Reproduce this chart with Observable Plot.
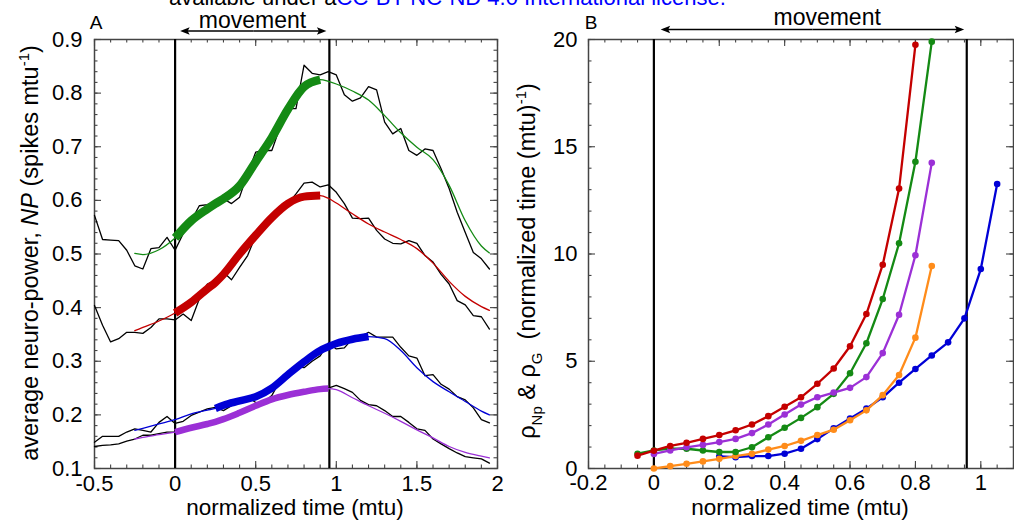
<!DOCTYPE html>
<html>
<head>
<meta charset="utf-8">
<script src="https://cdn.jsdelivr.net/npm/d3@7"></script>
<script src="https://cdn.jsdelivr.net/npm/@observablehq/plot@0.6"></script>
<style>
  html, body { margin: 0; padding: 0; background: #fff; }
  #wrap { position: relative; width: 1014px; height: 530px; overflow: hidden; background: #fff; }
  #hdr { position: absolute; left: 0; top: 0; }
  #pa { position: absolute; left: 0; top: 0; }
  #pb { position: absolute; left: 507px; top: 0; }
</style>
</head>
<body>
<div id="wrap">
  <div id="pa"></div>
  <div id="pb"></div>
  <svg id="hdr" width="1014" height="12"></svg>
</div>
<script>
// ---------------- Panel A data ----------------
const tRaw = [-0.5,-0.45,-0.4,-0.35,-0.3,-0.25,-0.2,-0.15,-0.1,-0.05,
  0,0.05,0.1,0.15,0.2,0.25,0.3,0.35,0.4,0.45,
  0.5,0.55,0.6,0.65,0.7,0.75,0.8,0.85,0.9,0.95,
  1,1.05,1.1,1.15,1.2,1.25,1.3,1.35,1.4,1.45,
  1.5,1.55,1.6,1.65,1.7,1.75,1.8,1.85,1.9,1.95];
const greenRaw = [0.572,0.527,0.526,0.525,0.507,0.478,0.472,0.51,0.512,0.531,
  0.507,0.538,0.562,0.59,0.592,0.597,0.603,0.594,0.606,0.65,
  0.69,0.693,0.693,0.736,0.771,0.771,0.852,0.837,0.834,0.84,
  0.834,0.797,0.785,0.791,0.812,0.806,0.746,0.724,0.734,0.693,
  0.684,0.696,0.693,0.659,0.622,0.578,0.54,0.503,0.491,0.472];
const redRaw = [0.404,0.367,0.336,0.342,0.354,0.354,0.352,0.363,0.379,0.379,
  0.377,0.388,0.376,0.416,0.444,0.451,0.466,0.452,0.475,0.497,
  0.534,0.546,0.563,0.58,0.594,0.612,0.632,0.634,0.625,0.629,
  0.615,0.594,0.567,0.566,0.567,0.544,0.528,0.52,0.519,0.525,
  0.52,0.497,0.485,0.462,0.444,0.413,0.405,0.385,0.383,0.36];
const blueRaw = [0.149,0.16,0.16,0.16,0.168,0.174,0.171,0.168,0.186,0.197,
  0.184,0.188,0.199,0.205,0.211,0.214,0.208,0.217,0.225,0.234,
  0.223,0.223,0.236,0.264,0.28,0.29,0.288,0.3,0.31,0.334,
  0.323,0.325,0.342,0.346,0.354,0.345,0.345,0.345,0.326,0.31,
  0.306,0.273,0.275,0.257,0.248,0.234,0.228,0.213,0.191,0.185];
const purpleRaw = [0.141,0.143,0.144,0.146,0.151,0.155,0.162,0.162,0.165,0.168,
  0.168,0.172,0.176,0.18,0.183,0.187,0.192,0.198,0.204,0.21,
  0.217,0.223,0.229,0.233,0.237,0.24,0.243,0.246,0.248,0.25,
  0.255,0.249,0.242,0.227,0.219,0.217,0.208,0.197,0.197,0.186,
  0.174,0.171,0.155,0.146,0.137,0.129,0.122,0.12,0.118,0.11];

const tFit = [-0.25,-0.2,-0.1,0,0.1,0.2,0.25,0.3,0.4,0.5,0.6,0.7,0.8,0.9,0.95,
  1,1.1,1.2,1.3,1.4,1.5,1.6,1.7,1.8,1.9,1.95];
const greenFit = [0.501,0.499,0.508,0.53,0.562,0.584,0.594,0.603,0.627,0.672,0.717,0.77,0.812,0.825,0.822,
  0.817,0.804,0.787,0.758,0.726,0.699,0.676,0.628,0.562,0.515,0.502];
const redFit = [0.357,0.363,0.375,0.39,0.41,0.435,0.447,0.462,0.5,0.535,0.568,0.594,0.607,0.609,0.604,
  0.595,0.575,0.556,0.541,0.527,0.51,0.483,0.449,0.421,0.402,0.395];
const blueFit = [0.171,0.175,0.183,0.191,0.202,0.209,0.212,0.218,0.226,0.234,0.25,0.275,0.299,0.32,0.327,
  0.333,0.341,0.346,0.342,0.32,0.288,0.262,0.243,0.225,0.207,0.2];
const purpleFit = [0.155,0.158,0.163,0.168,0.176,0.183,0.187,0.192,0.204,0.217,0.229,0.237,0.243,0.248,0.249,
  0.247,0.232,0.217,0.203,0.188,0.172,0.157,0.141,0.13,0.123,0.12];

// ranges drawn thick (fitted interval)
const greenThick = [0, 0.9];
const redThick = [0, 0.9];
const blueThick = [0.25, 1.2];
const purpleThick = [0, 0.95];

const xTicksA = [-0.5, 0, 0.5, 1, 1.5, 2];
const yTicksA = [0.1, 0.2, 0.3, 0.4, 0.5, 0.6, 0.7, 0.8, 0.9];
const xDomA = [-0.5, 2];
const yDomA = [0.1, 0.9];

// movement window and annotation
const movementBounds = [0, 0.957];
const arrowA = [0.05, 0.92];
const labelXA = 0.48;

// ---------------- Panel B data ----------------
const tB = [-0.05,0,0.05,0.1,0.15,0.2,0.25,0.3,0.35,0.4,0.45,0.5,0.55,0.6,0.65,0.7,0.75,0.8,0.85,0.9,0.95,1,1.05];
const rhoRed = [0.6,0.83,1.05,1.2,1.38,1.56,1.78,2.05,2.44,2.88,3.32,3.95,4.66,5.7,7.2,9.5,13.05,19.75];
const rhoGreen = [0.69,0.84,0.93,0.92,0.84,0.77,0.77,0.99,1.46,1.9,2.36,2.86,3.48,4.44,5.84,7.9,10.5,14.3,19.9];
const rhoPurple = [0.68,0.84,0.99,1.1,1.23,1.38,1.65,2.05,2.52,2.98,3.32,3.54,3.76,4.26,5.38,7.17,9.94,14.25];
const rhoOrange = [0,0.11,0.22,0.33,0.45,0.58,0.69,0.88,1.05,1.29,1.56,1.81,2.25,2.71,3.42,4.36,6.1,9.44];
const rhoBlue = [0.56,0.53,0.58,0.58,0.69,0.92,1.37,1.87,2.33,2.79,3.32,4.0,4.64,5.27,5.88,7.0,9.3,13.26];
// first time sample of each series (index into tB)
const startRed = -0.05, startGreen = -0.05, startPurple = 0, startOrange = 0, startBlue = 0.2;

const xTicksB = [-0.2, 0, 0.2, 0.4, 0.6, 0.8, 1];
const yTicksB = [0, 5, 10, 15, 20];
const xDomB = [-0.2, 1.1];
const yDomB = [0, 20];
const arrowB = [0.03, 0.94];
const labelXB = 0.53;

// ---------------- styles ----------------
const C = {green: "#148a14", red: "#c40000", blue: "#0000d6", purple: "#9b30d6", orange: "#ff8c1a"};
const FONT = "'Liberation Sans', Arial, Helvetica, sans-serif";
const FRAME = "#444";

function frameTicks(xMaj, xMin, yMaj, yMin, W, H) {
  const s = {stroke: FRAME, strokeWidth: 1.1};
  const mi = 3.5, ma = 7;
  return [
    Plot.tickX(xMin, {x: d => d, insetTop: H - mi, ...s}),
    Plot.tickX(xMin, {x: d => d, insetBottom: H - mi, ...s}),
    Plot.tickX(xMaj, {x: d => d, insetTop: H - ma, ...s}),
    Plot.tickX(xMaj, {x: d => d, insetBottom: H - ma, ...s}),
    Plot.tickY(yMin, {y: d => d, insetRight: W - mi, ...s}),
    Plot.tickY(yMin, {y: d => d, insetLeft: W - mi, ...s}),
    Plot.tickY(yMaj, {y: d => d, insetRight: W - ma, ...s}),
    Plot.tickY(yMaj, {y: d => d, insetLeft: W - ma, ...s})
  ];
}

function rows(ts, vs) { return vs.map((v, i) => ({t: ts[i], v})); }
function within(data, r) { return data.filter(d => d.t >= r[0] - 1e-9 && d.t <= r[1] + 1e-9); }

function styleMarkers(svg) {
  svg.querySelectorAll("marker").forEach(m => {
    m.setAttribute("overflow", "visible");
    m.querySelectorAll("path").forEach(p => {
      p.setAttribute("d", "M-6.5,-3.8L3,0L-6.5,3.8L-4.5,0Z");
      p.setAttribute("fill", "black");
      p.setAttribute("stroke", "none");
    });
  });
}

// ---------------- Panel A ----------------
const WA = 507, HA = 530, mlA = 94, mrA = 10, mtA = 39, mbA = 62;
const iwA = WA - mlA - mrA, ihA = HA - mtA - mbA;

const series = [
  {raw: greenRaw, fit: greenFit, thick: greenThick, color: C.green, w: 8.5},
  {raw: redRaw, fit: redFit, thick: redThick, color: C.red, w: 8},
  {raw: blueRaw, fit: blueFit, thick: blueThick, color: C.blue, w: 7.5},
  {raw: purpleRaw, fit: purpleFit, thick: purpleThick, color: C.purple, w: 6.5}
];

const marksA = [
  ...frameTicks(xTicksA, d3.range(-5, 21).map(i => i / 10), yTicksA, d3.range(5, 46).map(i => i / 50), iwA, ihA),
  Plot.frame({stroke: FRAME, strokeWidth: 1.5}),
  Plot.axisX(xTicksA, {tickSize: 0, tickPadding: 7, tickFormat: d => String(d), fontSize: 22, label: null}),
  Plot.axisY(yTicksA, {tickSize: 0, tickPadding: 12, tickFormat: d => d.toFixed(1), fontSize: 22, label: null}),
  Plot.ruleX(movementBounds, {x: d => d, stroke: "black", strokeWidth: 2.2}),
  ...series.map(s => Plot.line(rows(tRaw, s.raw), {x: "t", y: "v", stroke: "black", strokeWidth: 1.3})),
  ...series.map(s => Plot.line(rows(tFit, s.fit), {x: "t", y: "v", stroke: s.color, strokeWidth: 1.3, curve: "monotone-x"})),
  ...series.map(s => Plot.line(within(rows(tFit, s.fit), s.thick), {x: "t", y: "v", stroke: s.color, strokeWidth: s.w, strokeLinecap: "butt", curve: "monotone-x"})),
  Plot.link([{a: arrowA[0], b: arrowA[1], y: yDomA[1]}], {x1: d => (d.a + d.b) / 2, x2: "a", y1: "y", y2: "y", dy: -8.5, stroke: "black", strokeWidth: 1.5, markerEnd: "arrow"}),
  Plot.link([{a: arrowA[0], b: arrowA[1], y: yDomA[1]}], {x1: d => (d.a + d.b) / 2, x2: "b", y1: "y", y2: "y", dy: -8.5, stroke: "black", strokeWidth: 1.5, markerEnd: "arrow"}),
  Plot.text([{x: labelXA, y: yDomA[1]}], {x: "x", y: "y", text: () => "movement", dy: -19, fontSize: 23, fill: "black"})
];

const plotA = Plot.plot({
  width: WA, height: HA,
  marginLeft: mlA, marginRight: mrA, marginTop: mtA, marginBottom: mbA,
  x: {domain: xDomA, label: null},
  y: {domain: yDomA, label: null},
  style: {fontFamily: FONT, fontSize: "22px", color: "black", background: "transparent", overflow: "visible"},
  marks: marksA
});
document.getElementById("pa").appendChild(plotA);
styleMarkers(plotA);

// ---------------- Panel B ----------------
const WB = 507, HB = 530, mlB = 81, mrB = 1, mtB = 39, mbB = 62;
const iwB = WB - mlB - mrB, ihB = HB - mtB - mbB;

function seriesB(vals, start) {
  const i0 = tB.findIndex(t => Math.abs(t - start) < 1e-9);
  return vals.map((v, i) => ({t: tB[i0 + i], v}));
}
const bSeries = [
  {d: seriesB(rhoBlue, startBlue), c: C.blue},
  {d: seriesB(rhoOrange, startOrange), c: C.orange},
  {d: seriesB(rhoGreen, startGreen), c: C.green},
  {d: seriesB(rhoPurple, startPurple), c: C.purple},
  {d: seriesB(rhoRed, startRed), c: C.red}
];

const marksB = [
  ...frameTicks(xTicksB, d3.range(-4, 23).map(i => i / 20), yTicksB, d3.range(0, 21), iwB, ihB),
  Plot.frame({stroke: FRAME, strokeWidth: 1.5}),
  Plot.axisX(xTicksB, {tickSize: 0, tickPadding: 6, tickFormat: d => String(d), fontSize: 22, label: null}),
  Plot.axisY(yTicksB, {tickSize: 0, tickPadding: 11, tickFormat: d => String(d), fontSize: 22, label: null}),
  Plot.ruleX(movementBounds, {x: d => d, stroke: "black", strokeWidth: 2.2}),
  ...bSeries.flatMap(s => [
    Plot.line(s.d, {x: "t", y: "v", stroke: s.c, strokeWidth: 2.3}),
    Plot.dot(s.d, {x: "t", y: "v", fill: s.c, r: 3.3})
  ]),
  Plot.link([{a: arrowB[0], b: arrowB[1], y: yDomB[1]}], {x1: d => (d.a + d.b) / 2, x2: "a", y1: "y", y2: "y", dy: -10, stroke: "black", strokeWidth: 1.5, markerEnd: "arrow"}),
  Plot.link([{a: arrowB[0], b: arrowB[1], y: yDomB[1]}], {x1: d => (d.a + d.b) / 2, x2: "b", y1: "y", y2: "y", dy: -10, stroke: "black", strokeWidth: 1.5, markerEnd: "arrow"}),
  Plot.text([{x: labelXB, y: yDomB[1]}], {x: "x", y: "y", text: () => "movement", dy: -22, fontSize: 23, fill: "black"})
];

const plotB = Plot.plot({
  width: WB, height: HB,
  marginLeft: mlB, marginRight: mrB, marginTop: mtB, marginBottom: mbB,
  x: {domain: xDomB, label: null},
  y: {domain: yDomB, label: null},
  style: {fontFamily: FONT, fontSize: "22px", color: "black", background: "transparent", overflow: "visible"},
  marks: marksB
});
document.getElementById("pb").appendChild(plotB);
styleMarkers(plotB);

// ---------------- titles ----------------
function addText(svg, x, y, size, parts, rotate) {
  const t = d3.select(svg).append("text")
    .attr("font-family", FONT).attr("font-size", size).attr("fill", "black")
    .attr("text-anchor", rotate ? "middle" : "middle")
    .attr("transform", `translate(${x},${y})` + (rotate ? " rotate(-90)" : ""));
  for (const p of parts) {
    const s = t.append("tspan").text(p.t);
    if (p.italic) s.attr("font-style", "italic");
    if (p.dy) s.attr("dy", p.dy);
    if (p.size) s.attr("font-size", p.size);
  }
  return t;
}

// panel letters
d3.select(plotA).append("text").attr("x", 96).attr("y", 29).attr("font-family", FONT).attr("font-size", 19).text("A");
d3.select(plotB).append("text").attr("x", 591 - 507).attr("y", 29).attr("font-family", FONT).attr("font-size", 19).text("B");

// axis titles
addText(plotA, 295, 515, 22.5, [{t: "normalized time (mtu)"}]);
addText(plotB, 800 - 507, 515, 22.5, [{t: "normalized time (mtu)"}]);
addText(plotA, 38, 253, 23.5, [
  {t: "average neuro-power, "}, {t: "NP", italic: true}, {t: " (spikes mtu"},
  {t: "-1", dy: -9, size: 15}, {t: ")", dy: 9}
], true);
addText(plotB, 535 - 507, 261, 23.5, [
  {t: "ρ"}, {t: "Np", dy: 7, size: 15}, {t: " & ρ", dy: -7}, {t: "G", dy: 7, size: 15},
  {t: "  (normalized time (mtu)", dy: -7}, {t: "-1", dy: -9, size: 15}, {t: ")", dy: 9}
], true);

// clipped page header
const hdr = d3.select("#hdr").append("text").attr("x", 169).attr("y", 5)
  .attr("font-family", FONT).attr("font-size", 22);
hdr.append("tspan").attr("fill", "black").text("available under a");
hdr.append("tspan").attr("fill", "#0000ff").text("CC-BY-NC-ND 4.0 International license.");
</script>
</body>
</html>
